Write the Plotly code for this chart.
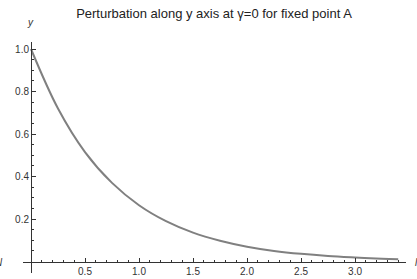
import plotly.graph_objects as go

# Values
x_vals = [0.0, 0.25, 0.5, 0.75, 1.0, 1.25, 1.5, 1.75, 2.0, 2.25, 2.5, 2.75, 3.0, 3.25, 3.4]
y_vals = [1.0, 0.72, 0.515, 0.37, 0.265, 0.19, 0.136, 0.098, 0.07, 0.05, 0.036, 0.026, 0.019, 0.013, 0.011]

x_ticks = [0.5, 1.0, 1.5, 2.0, 2.5, 3.0]
x_ticktext = ["0.5", "1.0", "1.5", "2.0", "2.5", "3.0"]
y_ticks = [0.2, 0.4, 0.6, 0.8, 1.0]
y_ticktext = ["0.2", "0.4", "0.6", "0.8", "1.0"]
x_minor = [round(0.1 * i, 2) for i in range(0, 35) if i % 5 != 0]
y_minor = [round(0.05 * i, 2) for i in range(1, 21) if i % 4 != 0]

title_text = "Perturbation along y axis at γ=0 for fixed point A"

fig = go.Figure()
fig.add_trace(go.Scatter(x=x_vals, y=y_vals, mode="lines",
                         line=dict(color="#808080", width=2, shape="spline", smoothing=1.0),
                         hoverinfo="skip", showlegend=False))

W, H = 417, 279
ml, mr, mt, mb = 23, 11, 42, 6
xr = [-0.074, 3.472]
yr = [-0.054, 1.033]
PW = W - ml - mr
PH = H - mt - mb
FONT = "Liberation Sans, Arial, sans-serif"

fig.update_layout(
    width=W, height=H,
    margin=dict(l=ml, r=mr, t=mt, b=mb, pad=0, autoexpand=False),
    paper_bgcolor="white", plot_bgcolor="white",
    font=dict(family=FONT, size=10, color="#333333"),
    title=dict(text=title_text, x=(214 - ml) / PW, xref="paper", xanchor="center",
               y=1 - 13 / H, yanchor="middle",
               font=dict(size=13, color="#222222", family=FONT)),
    xaxis=dict(range=xr, showgrid=False, zeroline=False, showline=True, linecolor="#333333",
               linewidth=1, anchor="free", position=(0 - yr[0]) / (yr[1] - yr[0]),
               automargin=False,
               tickmode="array", tickvals=x_ticks, ticktext=x_ticktext,
               ticks="inside", ticklen=4, tickwidth=1, tickcolor="#333333",
               minor=dict(tickmode="array", tickvals=x_minor, ticks="inside", ticklen=2,
                          tickwidth=1, tickcolor="#333333", showgrid=False),
               tickfont=dict(size=10, color="#333333"), fixedrange=True),
    yaxis=dict(range=yr, showgrid=False, zeroline=False, showline=True, linecolor="#333333",
               linewidth=1, anchor="free", position=(0 - xr[0]) / (xr[1] - xr[0]),
               automargin=False,
               tickmode="array", tickvals=y_ticks, ticktext=y_ticktext,
               ticks="inside", ticklen=4, tickwidth=1, tickcolor="#333333",
               minor=dict(tickmode="array", tickvals=y_minor, ticks="inside", ticklen=2,
                          tickwidth=1, tickcolor="#333333", showgrid=False),
               tickfont=dict(size=10, color="#333333"), fixedrange=True),
)

# axis labels (Mathematica style)
fig.add_annotation(text="<i>y</i>", x=(30 - ml) / PW, xref="paper",
                   y=1 + (mt - 22) / PH, yref="paper", showarrow=False,
                   xanchor="center", yanchor="middle", font=dict(size=10, color="#333333"))
fig.add_annotation(text="<i>N</i>", x=(5 - ml) / PW, xref="paper",
                   y=1 - (262 - mt) / PH, yref="paper", showarrow=False,
                   xanchor="right", yanchor="middle", font=dict(size=10, color="#333333"))
fig.add_annotation(text="<i>l</i>", x=(413 - ml) / PW, xref="paper",
                   y=1 - (262 - mt) / PH, yref="paper", showarrow=False,
                   xanchor="left", yanchor="middle", font=dict(size=10, color="#333333"))

fig.write_html("out.html", config={"displayModeBar": False, "staticPlot": True},
               post_script="document.body.style.margin='0';document.body.style.overflow='hidden';")
